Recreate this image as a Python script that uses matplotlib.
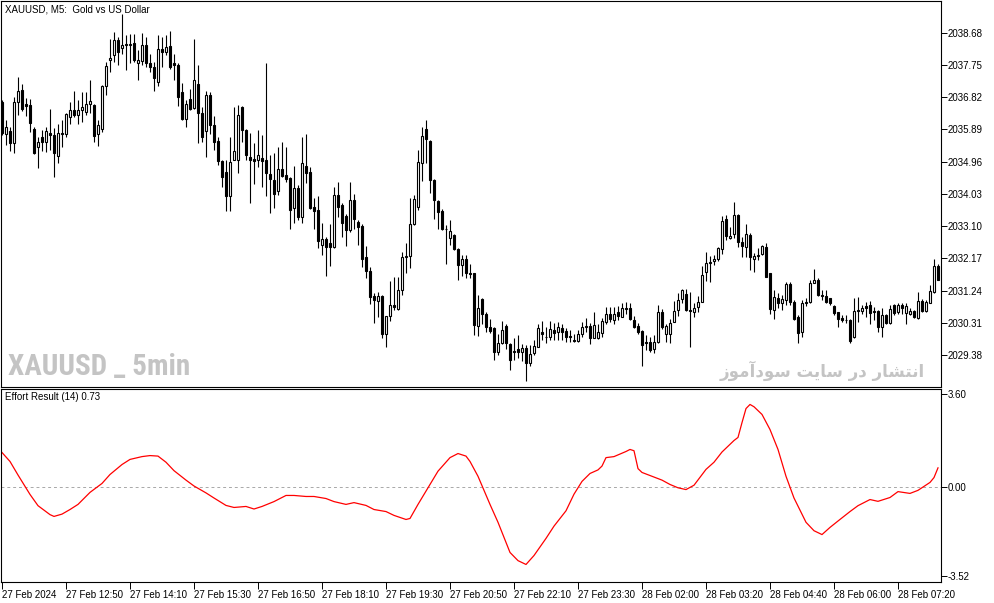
import matplotlib
matplotlib.use("Agg")
import matplotlib.pyplot as plt
import numpy as np

plt.rcParams['font.family'] = ['Liberation Sans', 'DejaVu Sans']

# XAUUSD M5 candles (open, high, low, close)
opens = [
    2036.69, 2035.76, 2035.84, 2035.49, 2036.67, 2037.02, 2036.62, 2036.59, 2035.90, 2035.39,
    2035.66, 2035.54, 2035.80, 2035.73, 2035.13, 2035.80, 2035.77, 2036.24, 2036.45, 2036.32,
    2036.45, 2036.39, 2036.61, 2036.59, 2035.75, 2035.91, 2037.14, 2037.89, 2038.03, 2038.47,
    2038.23, 2038.35, 2038.33, 2038.37, 2037.82, 2037.87, 2038.32, 2037.81, 2037.68, 2037.27,
    2038.22, 2038.11, 2038.30, 2037.80, 2037.75, 2036.98, 2036.18, 2036.76, 2036.50, 2037.20,
    2036.35, 2035.85, 2036.88, 2036.02, 2035.55, 2034.99, 2034.66, 2033.98, 2035.02, 2035.02,
    2036.53, 2035.87, 2035.10, 2035.03, 2035.02, 2035.07, 2035.01, 2034.60, 2034.43, 2034.12,
    2034.75, 2034.57, 2034.50, 2033.61, 2034.19, 2033.37, 2034.83, 2034.65, 2033.65, 2033.56,
    2032.57, 2032.72, 2032.60, 2032.50, 2033.99, 2033.71, 2033.39, 2032.99, 2033.85, 2033.21,
    2033.10, 2032.20, 2031.80, 2031.08, 2030.95, 2031.08, 2030.00, 2030.50, 2030.82, 2030.71,
    2031.27, 2032.22, 2032.25, 2033.15, 2033.66, 2034.91, 2035.90, 2035.56, 2034.43, 2033.83,
    2033.54, 2033.03, 2032.77, 2032.84, 2032.43, 2031.99, 2032.14, 2031.74, 2031.74, 2030.22,
    2031.00, 2030.58, 2030.18, 2030.17, 2029.46, 2029.72, 2030.22, 2029.69, 2029.50, 2029.57,
    2029.46, 2029.59, 2029.14, 2029.43, 2029.62, 2030.05, 2029.90, 2029.91, 2030.10, 2030.05,
    2030.15, 2030.07, 2029.93, 2029.81, 2029.79, 2030.00, 2030.18, 2030.22, 2029.86, 2029.88,
    2030.03, 2030.34, 2030.58, 2030.39, 2030.61, 2030.49, 2030.73, 2030.73, 2030.39, 2030.22,
    2030.07, 2029.76, 2029.75, 2029.57, 2029.75, 2030.61, 2030.00, 2030.00, 2030.34, 2030.68,
    2031.00, 2031.13, 2030.68, 2030.62, 2030.76, 2030.90, 2031.79, 2032.05, 2032.10, 2032.15,
    2032.45, 2033.30, 2032.75, 2032.86, 2033.42, 2032.63, 2032.51, 2032.84, 2032.14, 2032.24,
    2032.30, 2032.51, 2031.74, 2030.68, 2031.04, 2030.87, 2030.97, 2031.43, 2030.92, 2030.47,
    2030.04, 2030.91, 2030.90, 2031.47, 2031.56, 2031.11, 2031.08, 2031.02, 2030.79, 2030.63,
    2030.44, 2030.40, 2030.39, 2029.91, 2030.68, 2030.65, 2030.79, 2030.82, 2030.66, 2030.65,
    2030.18, 2030.53, 2030.31, 2030.82, 2030.63, 2030.82, 2030.60, 2030.58, 2030.65, 2030.44,
    2030.94, 2030.65, 2030.89, 2031.21, 2031.95,
]
highs = [
    2036.74, 2036.16, 2035.95, 2036.83, 2037.41, 2037.20, 2036.81, 2036.77, 2035.97, 2035.68,
    2035.87, 2035.97, 2036.48, 2035.92, 2036.06, 2036.16, 2036.37, 2036.69, 2037.00, 2036.74,
    2036.98, 2036.98, 2037.31, 2036.62, 2036.16, 2037.17, 2037.84, 2038.51, 2038.71, 2038.57,
    2039.22, 2038.61, 2038.64, 2038.64, 2038.18, 2038.66, 2038.57, 2038.07, 2037.84, 2038.61,
    2038.55, 2038.61, 2038.73, 2038.08, 2037.81, 2037.22, 2036.74, 2037.07, 2038.50, 2037.75,
    2036.53, 2037.01, 2036.98, 2036.28, 2035.68, 2035.01, 2035.01, 2035.68, 2036.55, 2036.59,
    2036.56, 2035.89, 2035.78, 2035.49, 2035.87, 2035.73, 2037.80, 2035.15, 2035.20, 2035.39,
    2035.53, 2035.39, 2034.52, 2034.83, 2034.28, 2035.66, 2035.76, 2034.81, 2033.90, 2033.97,
    2033.18, 2032.79, 2033.16, 2034.24, 2034.36, 2033.76, 2033.45, 2034.36, 2034.04, 2033.27,
    2033.15, 2032.52, 2031.93, 2031.16, 2031.21, 2031.10, 2030.52, 2031.51, 2031.64, 2031.64,
    2032.36, 2032.60, 2033.90, 2034.00, 2035.31, 2035.95, 2036.16, 2035.58, 2034.46, 2033.85,
    2033.59, 2033.13, 2033.28, 2032.86, 2032.46, 2032.28, 2032.27, 2032.01, 2031.76, 2031.11,
    2031.02, 2030.63, 2030.41, 2030.20, 2030.00, 2030.37, 2030.29, 2029.72, 2029.87, 2029.96,
    2029.69, 2029.67, 2029.67, 2029.81, 2030.29, 2030.37, 2030.20, 2030.37, 2030.32, 2030.34,
    2030.29, 2030.17, 2030.10, 2029.99, 2030.10, 2030.34, 2030.46, 2030.31, 2030.63, 2030.29,
    2030.44, 2030.76, 2030.76, 2030.77, 2030.79, 2030.87, 2030.90, 2030.87, 2030.51, 2030.31,
    2030.10, 2029.96, 2029.91, 2029.96, 2030.82, 2030.70, 2030.29, 2030.41, 2030.94, 2031.18,
    2031.28, 2031.28, 2031.21, 2030.87, 2031.08, 2031.95, 2032.36, 2032.24, 2032.27, 2032.51,
    2033.39, 2033.42, 2033.08, 2033.79, 2033.45, 2032.80, 2033.15, 2032.89, 2032.33, 2032.46,
    2032.56, 2032.60, 2031.76, 2031.26, 2031.18, 2031.11, 2031.50, 2031.50, 2030.97, 2030.53,
    2030.97, 2031.02, 2031.56, 2031.85, 2031.59, 2031.26, 2031.26, 2031.04, 2030.82, 2030.63,
    2030.53, 2030.53, 2030.41, 2031.02, 2031.06, 2030.82, 2030.92, 2030.94, 2030.78, 2030.68,
    2030.73, 2030.56, 2030.82, 2030.84, 2030.89, 2030.87, 2030.87, 2030.73, 2030.68, 2031.21,
    2030.99, 2030.97, 2031.40, 2032.14, 2032.01,
]
lows = [
    2035.73, 2035.44, 2035.28, 2035.22, 2036.30, 2036.43, 2036.29, 2035.82, 2035.18, 2034.77,
    2035.28, 2035.25, 2035.29, 2034.51, 2034.91, 2035.39, 2035.66, 2036.06, 2036.24, 2036.05,
    2036.11, 2036.30, 2036.35, 2035.54, 2035.41, 2035.82, 2036.88, 2037.56, 2037.84, 2037.75,
    2038.08, 2037.60, 2037.82, 2037.84, 2037.33, 2037.75, 2037.70, 2037.56, 2037.01, 2037.14,
    2037.70, 2038.04, 2037.62, 2037.31, 2036.56, 2036.16, 2035.95, 2036.45, 2036.47, 2035.51,
    2035.53, 2035.10, 2035.77, 2035.29, 2034.86, 2034.24, 2033.54, 2033.54, 2035.01, 2034.62,
    2035.53, 2035.01, 2033.76, 2034.33, 2034.80, 2034.24, 2033.97, 2033.47, 2033.61, 2033.99,
    2034.52, 2034.38, 2033.03, 2033.20, 2033.27, 2033.20, 2034.35, 2033.59, 2033.03, 2032.46,
    2032.26, 2031.67, 2031.96, 2032.48, 2033.35, 2032.79, 2032.53, 2032.94, 2033.03, 2032.57,
    2031.91, 2031.59, 2030.84, 2030.32, 2030.49, 2029.86, 2029.62, 2030.37, 2030.68, 2030.68,
    2031.11, 2031.74, 2031.88, 2033.13, 2033.58, 2034.41, 2034.91, 2034.05, 2033.32, 2033.03,
    2032.99, 2032.02, 2032.55, 2032.41, 2031.56, 2031.66, 2031.59, 2031.59, 2029.95, 2029.93,
    2030.27, 2030.05, 2030.03, 2029.25, 2029.38, 2029.71, 2029.55, 2028.95, 2029.25, 2029.31,
    2029.22, 2028.64, 2029.06, 2029.38, 2029.62, 2029.81, 2029.72, 2029.81, 2029.81, 2029.83,
    2029.81, 2029.75, 2029.76, 2029.77, 2029.76, 2029.91, 2030.05, 2029.69, 2029.86, 2029.84,
    2029.91, 2030.29, 2030.34, 2030.29, 2030.39, 2030.47, 2030.56, 2030.39, 2030.17, 2029.99,
    2029.07, 2029.54, 2029.47, 2029.45, 2029.73, 2030.12, 2029.77, 2029.72, 2030.34, 2030.51,
    2030.87, 2030.66, 2029.60, 2030.47, 2030.63, 2030.90, 2031.52, 2031.50, 2031.98, 2032.10,
    2032.31, 2032.70, 2032.72, 2032.75, 2032.51, 2032.22, 2032.22, 2031.83, 2031.79, 2032.12,
    2032.27, 2031.63, 2030.58, 2030.41, 2030.73, 2030.68, 2030.82, 2030.82, 2030.39, 2029.72,
    2029.89, 2030.80, 2030.87, 2031.45, 2031.08, 2030.97, 2030.89, 2030.82, 2030.53, 2030.18,
    2030.34, 2030.31, 2029.74, 2029.86, 2030.34, 2030.58, 2030.49, 2030.29, 2030.39, 2030.05,
    2029.89, 2030.27, 2030.29, 2030.53, 2030.58, 2030.58, 2030.29, 2030.53, 2030.44, 2030.41,
    2030.63, 2030.63, 2030.87, 2031.16, 2031.54,
]
closes = [
    2035.78, 2035.95, 2035.49, 2036.68, 2037.00, 2036.47, 2036.57, 2036.08, 2035.20, 2035.54,
    2035.54, 2035.84, 2035.73, 2035.22, 2035.80, 2035.77, 2036.33, 2036.45, 2036.32, 2036.45,
    2036.53, 2036.62, 2036.71, 2035.71, 2036.01, 2037.14, 2037.72, 2037.95, 2038.47, 2038.11,
    2038.32, 2038.33, 2038.35, 2037.89, 2037.89, 2038.32, 2037.80, 2037.68, 2037.36, 2038.20,
    2038.11, 2038.26, 2037.68, 2037.75, 2036.83, 2036.18, 2036.62, 2036.47, 2037.31, 2036.35,
    2035.68, 2036.88, 2036.02, 2035.53, 2034.99, 2034.52, 2033.98, 2034.95, 2035.27, 2036.30,
    2035.87, 2035.15, 2035.01, 2034.99, 2035.15, 2034.99, 2034.62, 2034.45, 2034.02, 2034.75,
    2034.55, 2034.46, 2033.56, 2034.19, 2033.37, 2034.91, 2034.62, 2033.63, 2033.54, 2032.68,
    2032.72, 2032.49, 2032.50, 2033.99, 2033.66, 2033.18, 2032.99, 2033.85, 2033.32, 2033.08,
    2032.16, 2031.81, 2031.06, 2030.98, 2031.08, 2030.00, 2030.50, 2030.82, 2030.76, 2031.27,
    2032.22, 2032.25, 2033.15, 2033.87, 2034.94, 2035.70, 2035.60, 2034.43, 2033.85, 2033.52,
    2033.01, 2033.01, 2032.96, 2032.43, 2031.99, 2032.14, 2031.74, 2031.71, 2030.24, 2030.75,
    2030.58, 2030.18, 2030.07, 2029.48, 2029.72, 2030.10, 2029.72, 2029.25, 2029.48, 2029.46,
    2029.59, 2029.14, 2029.40, 2029.64, 2030.15, 2029.99, 2029.89, 2030.13, 2030.03, 2030.18,
    2030.06, 2029.91, 2029.89, 2029.79, 2029.99, 2030.20, 2030.22, 2029.86, 2030.25, 2030.05,
    2030.36, 2030.58, 2030.41, 2030.56, 2030.51, 2030.75, 2030.70, 2030.41, 2030.20, 2030.05,
    2029.67, 2029.72, 2029.54, 2029.77, 2030.61, 2030.18, 2030.22, 2030.32, 2030.66, 2030.97,
    2031.26, 2030.68, 2030.65, 2030.75, 2030.92, 2031.68, 2032.05, 2032.07, 2032.15, 2032.46,
    2033.26, 2032.82, 2032.81, 2033.42, 2032.63, 2032.53, 2032.87, 2032.22, 2032.24, 2032.27,
    2032.53, 2031.64, 2030.70, 2031.06, 2030.89, 2030.99, 2031.43, 2030.92, 2030.42, 2030.03,
    2030.87, 2030.89, 2031.45, 2031.54, 2031.11, 2031.08, 2030.92, 2030.89, 2030.60, 2030.41,
    2030.39, 2030.39, 2029.79, 2030.66, 2030.65, 2030.73, 2030.75, 2030.60, 2030.61, 2030.20,
    2030.53, 2030.31, 2030.70, 2030.60, 2030.82, 2030.73, 2030.79, 2030.66, 2030.49, 2030.95,
    2030.65, 2030.92, 2031.24, 2031.95, 2031.56,
]

# Effort Result (14) readings at bar index
eff_bar = [0, 2, 4, 7, 9, 12, 13, 15, 17, 19, 22, 25, 27, 30, 32, 35, 37, 39, 41, 43,
           46, 48, 51, 53, 56, 58, 61, 63, 65, 68, 71, 73, 76, 78, 81, 83, 86, 88, 91, 93,
           96, 98, 101, 102, 104, 107, 109, 112, 114, 116, 117, 119, 122, 124, 127, 129, 131, 133, 136, 138,
           141, 143, 145, 147, 149, 150, 151, 153, 156, 157, 158, 159, 160, 162, 165, 167, 169, 171, 173, 176,
           178, 180, 183, 184, 185, 186, 187, 188, 190, 192, 194, 196, 198, 201, 203, 205, 207, 209, 212, 214,
           217, 219, 222, 224, 227, 229, 232, 233, 234]
eff_val = [1.33, 0.98, 0.45, -0.31, -0.75, -1.10, -1.17, -1.08, -0.90, -0.70, -0.23, 0.12, 0.47, 0.86, 1.06, 1.17, 1.21, 1.19, 0.95, 0.62,
           0.25, 0.02, -0.25, -0.45, -0.74, -0.82, -0.78, -0.88, -0.78, -0.59, -0.35, -0.35, -0.39, -0.39, -0.47, -0.59, -0.70, -0.63, -0.74, -0.90,
           -0.98, -1.13, -1.29, -1.25, -0.70, 0.08, 0.60, 1.13, 1.29, 1.19, 0.98, 0.40, -0.70, -1.40, -2.58, -2.90, -3.05, -2.70, -2.03, -1.55,
           -0.95, -0.30, 0.20, 0.51, 0.65, 0.80, 1.13, 1.17, 1.37, 1.45, 1.40, 0.70, 0.55, 0.43, 0.25, 0.08, -0.05, -0.12, 0.05, 0.67,
           0.95, 1.35, 1.80, 1.92, 2.50, 3.05, 3.21, 3.12, 2.82, 2.23, 1.45, 0.40, -0.45, -1.40, -1.73, -1.88, -1.60, -1.35, -0.98, -0.75,
           -0.51, -0.58, -0.43, -0.20, -0.27, -0.15, 0.16, 0.35, 0.73]

price_ticks = [2038.68, 2037.75, 2036.82, 2035.89, 2034.96, 2034.03, 2033.10, 2032.17, 2031.24, 2030.31, 2029.38]
eff_ticks = [3.60, 0.00, -3.52]
time_labels = ['27 Feb 2024', '27 Feb 12:50', '27 Feb 14:10', '27 Feb 15:30', '27 Feb 16:50',
               '27 Feb 18:10', '27 Feb 19:30', '27 Feb 20:50', '27 Feb 22:10', '27 Feb 23:30',
               '28 Feb 02:00', '28 Feb 03:20', '28 Feb 04:40', '28 Feb 06:00', '28 Feb 07:20']
label_step = 16

W, H = 994, 603
fig = plt.figure(figsize=(W / 100, H / 100), dpi=100)
ax = fig.add_axes([1 / W, 1 - 387 / H, 940 / W, 386 / H])
ax2 = fig.add_axes([1 / W, 1 - 582 / H, 940 / W, 193 / H])

o = np.array(opens)
h = np.array(highs)
l = np.array(lows)
c = np.array(closes)
idx = np.arange(len(c))

ax.vlines(idx, l, h, color='black', lw=0.8)
up = c >= o
body_lo = np.minimum(o, c)
body_h = np.maximum(np.abs(c - o), 0.005)
ax.bar(idx, body_h, bottom=body_lo, width=0.5,
       color=np.where(up, 'white', 'black'), edgecolor='black', lw=0.8, zorder=3)

ax.set_xlim(-0.25, 234.75)
ax.set_ylim(2028.46, 2039.595)

ax2.axhline(0, color='#a8a8a8', lw=0.7, ls=(0, (3, 3)))
ax2.plot(eff_bar, eff_val, color='red', lw=0.9)
ax2.set_xlim(-0.25, 234.75)
ax2.set_ylim(-3.736, 3.815)

for a in (ax, ax2):
    for s in a.spines.values():
        s.set_linewidth(0.8)
        s.set_color('black')
    a.yaxis.tick_right()
    a.tick_params(axis='y', length=4, width=0.7, pad=1, labelsize=7)

ax.set_xticks([])
ax.set_yticks(price_ticks)
ax.set_yticklabels(['%.2f' % v for v in price_ticks])
ax2.set_yticks(eff_ticks)
ax2.set_yticklabels(['%.2f' % v for v in eff_ticks])

ax2.set_xticks([i * label_step for i in range(len(time_labels))])
ax2.set_xticklabels(time_labels)
ax2.tick_params(axis='x', length=5, width=0.7, pad=1, labelsize=7)
for t in ax2.get_xticklabels():
    t.set_horizontalalignment('left')

ax.text(4 / 940, 1 - 8 / 386, 'XAUUSD, M5:  Gold vs US Dollar', transform=ax.transAxes,
        fontsize=7, va='center', ha='left')
ax2.text(4 / 940, 1 - 8 / 193, 'Effort Result (14) 0.73', transform=ax2.transAxes,
         fontsize=7, va='center', ha='left')

fig.text(8 / W, 1 - 381 / H, 'XAUUSD _ 5min', fontsize=21, fontweight='bold',
         fontstretch='condensed',
         family=['Roboto Condensed', 'Open Sans Condensed', 'DejaVu Sans'],
         color='#c4c4c4', ha='left', va='bottom')
# Persian text in presentation forms, visual order
fa_text = ('\uFEAF\uFEEE\uFEE3\uFE81\uFEA9\uFEEE\uFEB3 \uFE96\uFBFE\uFE8E\uFEB3 '
           '\uFEAD\uFEA9 \uFEAD\uFE8E\uFEB8\uFE98\uFEE7\uFE8D')
fig.text(925 / W, 1 - 381 / H, fa_text, fontsize=12, fontweight='bold',
         family=['DejaVu Sans'], color='#c4c4c4', ha='right', va='bottom')

fig.savefig('out.png', dpi=100)
